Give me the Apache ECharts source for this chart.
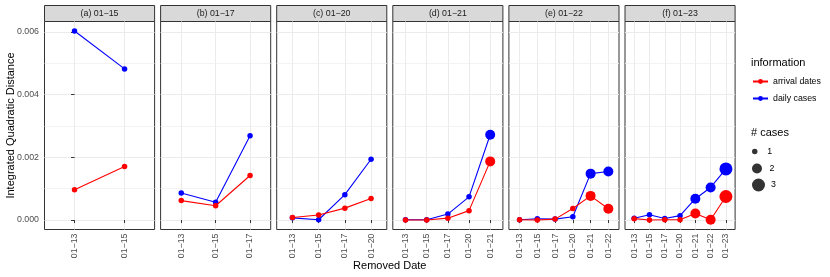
<!DOCTYPE html>
<html><head><meta charset="utf-8">
<script src="https://cdn.jsdelivr.net/npm/echarts@6/dist/echarts.min.js"></script>
<style>html,body{margin:0;padding:0;background:#fff}#c{width:830px;height:277px}</style>
</head><body><div id="c"></div>
<script>
// ---- data ----
const panelTitles = ['(a) 01\u221215','(b) 01\u221217','(c) 01\u221220','(d) 01\u221221','(e) 01\u221222','(f) 01\u221223'];
const dateLabels = ['01\u221213','01\u221215','01\u221217','01\u221220','01\u221221','01\u221222','01\u221223'];
const arrivalDates = [
  [0.00097, 0.00171],
  [0.00062, 0.000455, 0.00142],
  [0.00008, 0.00016, 0.00038, 0.00069],
  [0.0, 0.0, 0.00006, 0.00030, 0.00187],
  [0.00001, 0.0, 0.00003, 0.00037, 0.00077, 0.00036],
  [0.000045, 0.0, 0.00001, 0.00001, 0.00021, 0.00001, 0.00075]
];
const dailyCases = [
  [0.00603, 0.00482],
  [0.00086, 0.00057, 0.00269],
  [0.00007, 0.00001, 0.00081, 0.00194],
  [0.00001, 0.00001, 0.00019, 0.00074, 0.00272],
  [0.00001, 0.00004, 0.00003, 0.000105, 0.00148, 0.00155],
  [0.00006, 0.00017, 0.00005, 0.00014, 0.00068, 0.00104, 0.00163]
];
const caseCounts = [1, 1, 1, 1, 2, 2, 3];   // # cases per removed date
const yTicks = [0, 0.002, 0.004, 0.006];
const yMinorTicks = [0.001, 0.003, 0.005];
const sizeLevels = ['1', '2', '3'];

// ---- styling / layout ----
const FONT = '"Liberation Sans", Arial, Helvetica, sans-serif';
const sizePx = {1: 5.5, 2: 10, 3: 13};
const RED = '#FF0000', BLUE = '#0000FF';
const allVals = arrivalDates.flat().concat(dailyCases.flat());
const dMax = Math.max(...allVals), dMin = Math.min(0, ...allVals);
const yMin = dMin - 0.05 * (dMax - dMin), yMax = dMax + 0.05 * (dMax - dMin);
const L0 = 44.5, PW = 110.1, GAP = 6, TOP = 21.5, PH = 208, STRIP = 16;

const grids = [], xAxes = [], yAxes = [], series = [], graphics = [];
panelTitles.forEach((t, i) => {
  const n = arrivalDates[i].length;
  const idx = Array.from({length: n}, (_, j) => j);
  const left = L0 + i * (PW + GAP);
  grids.push({left: left, top: TOP, width: PW, height: PH, show: true,
    borderColor: '#333333', borderWidth: 1, backgroundColor: '#fff', containLabel: false});
  xAxes.push({type: 'value', gridIndex: i, min: -0.6, max: n - 0.4,
    axisLine: {show: false},
    axisTick: {show: true, customValues: idx, length: 3, lineStyle: {color: '#333333', width: 1}},
    axisLabel: {customValues: idx, rotate: 90, margin: 4, fontSize: 8.8, color: '#4D4D4D', fontFamily: FONT,
      formatter: v => dateLabels[Math.round(v)]},
    splitLine: {show: true, lineStyle: {color: '#EBEBEB', width: 1}}});
  yAxes.push({type: 'value', gridIndex: i, min: yMin, max: yMax,
    axisLine: {show: false},
    axisTick: {show: i === 0, customValues: yTicks, length: 3.5, lineStyle: {color: '#333333', width: 1}},
    axisLabel: {show: i === 0, customValues: yTicks, margin: 5.5, fontSize: 8.8, color: '#4D4D4D', fontFamily: FONT,
      formatter: v => v.toFixed(3)},
    splitLine: {show: true, lineStyle: {color: '#EBEBEB', width: 1}}});
  yAxes.push({type: 'value', gridIndex: i, min: yMin, max: yMax, position: 'left',
    axisLine: {show: false},
    axisTick: {show: false, customValues: yMinorTicks},
    axisLabel: {show: false, customValues: yMinorTicks},
    splitLine: {show: true, lineStyle: {color: '#F0F0F0', width: 0.8}}});
  const mk = (name, vals, color, z) => ({
    type: 'line', name: name, xAxisIndex: i, yAxisIndex: 2 * i,
    data: vals.map((v, j) => [j, v]),
    symbol: 'circle', symbolSize: (val, p) => sizePx[caseCounts[p.dataIndex]],
    showAllSymbol: true, itemStyle: {color: color}, lineStyle: {color: color, width: 1.1},
    z: z, animation: false, clip: false, emphasis: {disabled: true}
  });
  series.push(mk('daily cases', dailyCases[i], BLUE, 3));
  series.push(mk('arrival dates', arrivalDates[i], RED, 4));
  graphics.push({type: 'rect', shape: {x: left, y: TOP - STRIP, width: PW, height: STRIP},
    style: {fill: '#D9D9D9', stroke: '#333333', lineWidth: 1}, silent: true});
  graphics.push({type: 'text', x: left + PW / 2, y: TOP - STRIP / 2,
    style: {text: t, fill: '#1A1A1A', font: '8.8px ' + FONT, textAlign: 'center', textVerticalAlign: 'middle'}});
});
sizeLevels.forEach(s => series.push({type: 'scatter', name: s, data: [], xAxisIndex: 0, yAxisIndex: 0,
  itemStyle: {color: '#000'}, animation: false}));

// axis titles & legend titles
graphics.push({type: 'text', x: 10.5, y: TOP + PH / 2, rotation: Math.PI / 2,
  style: {text: 'Integrated Quadratic Distance', fill: '#000', font: '11px ' + FONT, textAlign: 'center', textVerticalAlign: 'middle'}});
graphics.push({type: 'text', x: (L0 + L0 + 6 * PW + 5 * GAP) / 2, y: 266,
  style: {text: 'Removed Date', fill: '#000', font: '11px ' + FONT, textAlign: 'center', textVerticalAlign: 'middle'}});
graphics.push({type: 'text', x: 751, y: 63.3,
  style: {text: 'information', fill: '#000', font: '11px ' + FONT, textAlign: 'left', textVerticalAlign: 'middle'}});
graphics.push({type: 'text', x: 751, y: 133.3,
  style: {text: '# cases', fill: '#000', font: '11px ' + FONT, textAlign: 'left', textVerticalAlign: 'middle'}});

const legendText = {fontSize: 8.8, color: '#000', fontFamily: FONT};
const legends = [{
  data: ['arrival dates', 'daily cases'], orient: 'vertical', left: 752, top: 77,
  itemWidth: 15, itemHeight: 6, itemGap: 8, padding: 0, textStyle: legendText, selectedMode: false
}];
const legendCenters = [152.5, 169, 185];
sizeLevels.forEach((s, k) => {
  const d = sizePx[+s];
  const h = Math.max(d, 11);
  legends.push({data: [{name: s, icon: 'circle'}], left: 752, top: legendCenters[k] - h / 2,
    itemWidth: 15, itemHeight: d, padding: 0, textStyle: legendText, selectedMode: false});
});

const chart = echarts.init(document.getElementById('c'), null, {renderer: 'canvas'});
chart.setOption({
  animation: false, backgroundColor: '#fff',
  grid: grids, xAxis: xAxes, yAxis: yAxes, series: series,
  legend: legends, graphic: graphics
});
</script></body></html>
